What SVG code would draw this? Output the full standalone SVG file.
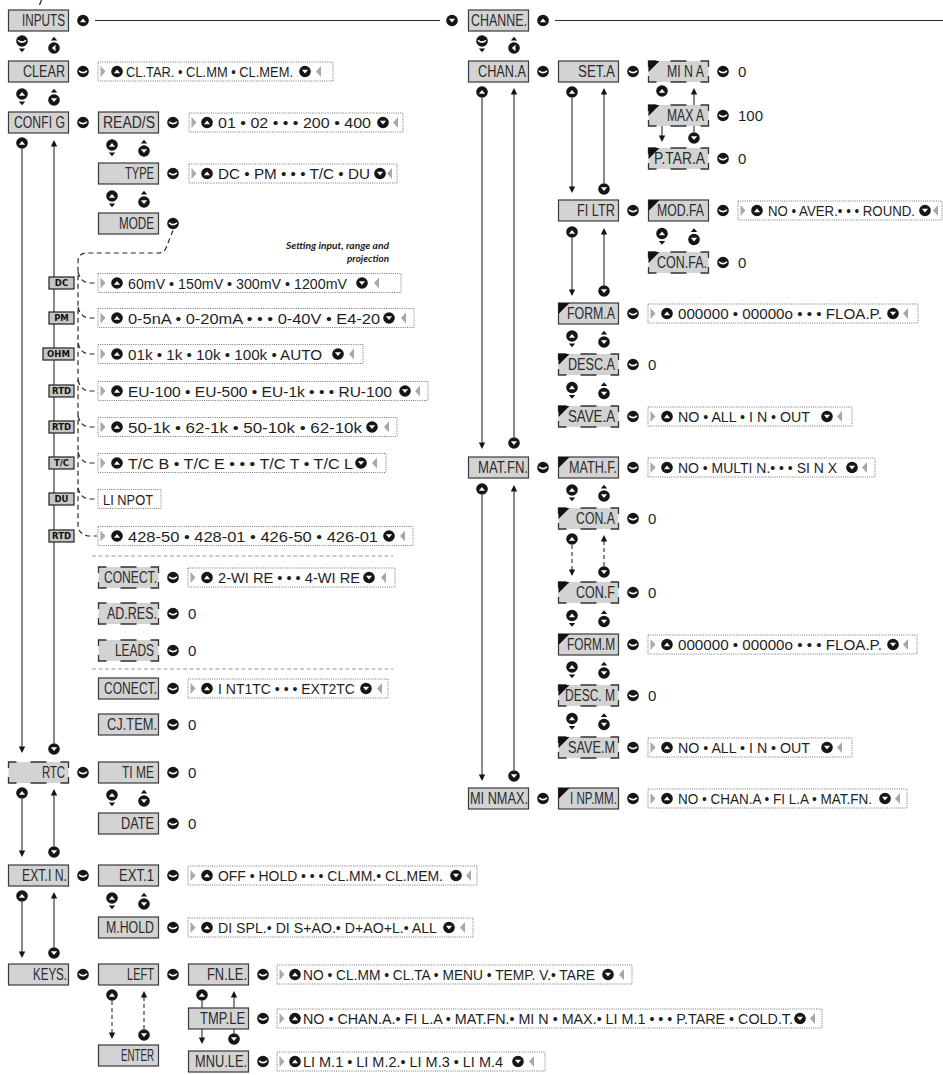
<svg xmlns="http://www.w3.org/2000/svg" width="943" height="1075" viewBox="0 0 943 1075">
<style>
.t{font-family:'Liberation Sans Narrow','Liberation Sans',Arial,sans-serif;font-size:16px;fill:#2b2b2b}
.o{font-family:'Liberation Sans Narrow','Liberation Sans',Arial,sans-serif;font-size:15px;fill:#1e1e1e}
.ob{fill:#fff;stroke:#555;stroke-width:0.8;stroke-dasharray:1 1.2}
.ln{fill:none;stroke:#2a2a2a;stroke-width:1.1}
.dl{fill:none;stroke:#2a2a2a;stroke-width:1.1;stroke-dasharray:4 3}
.md{fill:none;stroke:#2a2a2a;stroke-width:1.2;stroke-dasharray:5 3.5}
.sp{fill:none;stroke:#9a9a9a;stroke-width:1;stroke-dasharray:4 2.5}
.lb{fill:#c6c6c6;stroke:#1e1e1e;stroke-width:1.2}
.lt{font-family:'DejaVu Sans',sans-serif;font-weight:bold;font-size:8.5px;fill:#111;text-anchor:middle}
.it{font-family:Lato,'DejaVu Sans',sans-serif;font-weight:bold;font-style:italic;font-size:9px;fill:#222}
</style>
<defs>
<rect id="B" width="60" height="21" fill="#d3d3d3" stroke="#3a3a3a" stroke-width="1.2"/>
<g id="D"><rect width="60" height="21" fill="#d3d3d3"/><path d="M0,6V0H8M22,0H38M52,0H60V6M60,15V21H52M38,21H22M8,21H0V15" fill="none" stroke="#333" stroke-width="1.3"/></g>
<path id="C" d="M0,0H11L0,11Z" fill="#111"/>
<g id="iu"><circle r="5.8" fill="#151515"/><path d="M-3.1,1.8L0,-2.1L3.1,1.8Z" fill="#fff"/></g>
<g id="id"><circle r="5.8" fill="#151515"/><path d="M-3.1,-1.8L0,2.1L3.1,-1.8Z" fill="#fff"/></g>
<g id="ie"><circle r="5.8" fill="#151515"/><path d="M-4,-0.8Q0,3.1 4,-0.8" fill="none" stroke="#fff" stroke-width="1.6"/></g>
<g id="ir"><circle r="5.8" fill="#151515"/><path d="M1.5,-3.2L-2.2,0L1.5,3.2Z" fill="#fff"/></g>
<path id="tv" d="M-3.2,0H3.2L0,3.8Z" fill="#151515"/>
<path id="ta" d="M-3.2,0H3.2L0,-3.8Z" fill="#151515"/>
<g id="PL"><use href="#iu"/><use href="#tv" y="7.5"/></g>
<g id="PR"><use href="#ta" y="-7.5"/><use href="#id"/></g>
<path id="AD" d="M-3.2,-6.5H3.2L0,0Z" fill="#151515"/>
<path id="AU" d="M-3.2,6.5H3.2L0,0Z" fill="#151515"/>
<path id="GR" d="M0,-5.5L5,0L0,5.5Z" fill="#a8a8a8"/>
<path id="GL" d="M5,-5.5L0,0L5,5.5Z" fill="#a8a8a8"/>
</defs>
<rect width="943" height="1075" fill="#fff"/>
<path d="M41.5,0L39.5,5" stroke="#222" stroke-width="1.2"/>

<g id="connectors">
<path class="ln" d="M95,20.5H440M555,20.5H943"/>
<use href="#iu" x="83" y="20.5"/><use href="#id" x="452" y="20.5"/><use href="#iu" x="543" y="20.5"/>
<use href="#ie" x="22" y="41"/><use href="#tv" x="22" y="48.5"/><use href="#ta" x="54" y="40.5"/><use href="#ir" x="54" y="48"/>
<use href="#ie" x="482" y="41"/><use href="#tv" x="482" y="48.5"/><use href="#ta" x="514" y="40.5"/><use href="#ir" x="514" y="48"/>
<use href="#PL" x="22" y="94"/><use href="#PR" x="54" y="100"/>
<use href="#PL" x="112" y="145"/><use href="#PR" x="144" y="151"/>
<use href="#PL" x="112" y="196"/><use href="#PR" x="144" y="202"/>
<use href="#PL" x="112" y="795"/><use href="#PR" x="144" y="801"/>
<use href="#PL" x="112" y="898"/><use href="#PR" x="144" y="904"/>
<use href="#PL" x="662" y="233.5"/><use href="#PR" x="694" y="239.5"/>
<use href="#PL" x="572" y="336"/><use href="#PR" x="604" y="342"/>
<use href="#PL" x="572" y="387.5"/><use href="#PR" x="604" y="393.5"/>
<use href="#PL" x="572" y="490"/><use href="#PR" x="604" y="496"/>
<use href="#PL" x="572" y="615.5"/><use href="#PR" x="604" y="621.5"/>
<use href="#PL" x="572" y="667"/><use href="#PR" x="604" y="673"/>
<use href="#PL" x="572" y="718.5"/><use href="#PR" x="604" y="724.5"/>
<path class="ln" d="M22,149V747M54,146V743M22,799V851M54,795V846M22,902V952M54,898V947"/>
<use href="#iu" x="22" y="143"/><use href="#AD" x="22" y="753"/><use href="#AU" x="54" y="140"/><use href="#id" x="54" y="749"/>
<use href="#iu" x="22" y="793"/><use href="#AD" x="22" y="857"/><use href="#AU" x="54" y="789"/><use href="#id" x="54" y="852"/>
<use href="#iu" x="22" y="896"/><use href="#AD" x="22" y="958"/><use href="#AU" x="54" y="892"/><use href="#id" x="54" y="953"/>
<path class="dl" d="M112,1001V1033M144,997V1029"/>
<use href="#iu" x="112" y="995"/><use href="#AD" x="112" y="1039"/><use href="#AU" x="144" y="991"/><use href="#id" x="144" y="1035"/>
<path class="ln" d="M202,1001V1008M234,997V1008M202,1029V1038M234,1029V1033"/>
<use href="#iu" x="202" y="995"/><use href="#AU" x="234" y="991"/><use href="#AD" x="202" y="1044"/><use href="#id" x="234" y="1039"/>
<path class="ln" d="M482,98V443M514,94V437M482,495V775M514,491V770M572,98V187M604,94V183M572,238V290M604,234V285M694,94V105M694,126V132M662,126V136"/>
<use href="#iu" x="482" y="92"/><use href="#AD" x="482" y="449"/><use href="#AU" x="514" y="88"/><use href="#id" x="514" y="443"/>
<use href="#iu" x="482" y="489"/><use href="#AD" x="482" y="781"/><use href="#AU" x="514" y="485"/><use href="#id" x="514" y="776"/>
<use href="#iu" x="572" y="92"/><use href="#AD" x="572" y="193"/><use href="#AU" x="604" y="88"/><use href="#id" x="604" y="189"/>
<use href="#iu" x="572" y="232"/><use href="#AD" x="572" y="296"/><use href="#AU" x="604" y="228"/><use href="#id" x="604" y="291"/>
<use href="#iu" x="662" y="91"/><use href="#AU" x="694" y="88"/><use href="#AD" x="662" y="142"/><use href="#id" x="694" y="138"/>
<path class="dl" d="M572,545V570M604,541V566"/>
<use href="#iu" x="572" y="539"/><use href="#AD" x="572" y="576"/><use href="#AU" x="604" y="535"/><use href="#id" x="604" y="572"/>
<use href="#ie" x="83" y="71.5"/><use href="#ie" x="83" y="122.5"/><use href="#ie" x="173" y="122.5"/><use href="#ie" x="173" y="173.5"/><use href="#ie" x="173" y="223.5"/>
<use href="#ie" x="173" y="577.5"/><use href="#ie" x="173" y="613.5"/><use href="#ie" x="173" y="650.5"/><use href="#ie" x="173" y="688.5"/><use href="#ie" x="173" y="724.5"/>
<use href="#ie" x="83" y="772.5"/><use href="#ie" x="173" y="772.5"/><use href="#ie" x="173" y="823.5"/><use href="#ie" x="83" y="875.5"/><use href="#ie" x="173" y="875.5"/><use href="#ie" x="173" y="927.5"/>
<use href="#ie" x="83" y="974.5"/><use href="#ie" x="173" y="974.5"/><use href="#ie" x="263" y="974.5"/><use href="#ie" x="263" y="1018.5"/><use href="#ie" x="263" y="1061.5"/>
<use href="#ie" x="543" y="71.5"/><use href="#ie" x="633" y="71.5"/><use href="#ie" x="723" y="71.5"/><use href="#ie" x="723" y="115.5"/><use href="#ie" x="723" y="158.5"/>
<use href="#ie" x="633" y="210.5"/><use href="#ie" x="723" y="210.5"/><use href="#ie" x="723" y="262.5"/><use href="#ie" x="633" y="313.5"/><use href="#ie" x="633" y="364.5"/><use href="#ie" x="633" y="416.5"/>
<use href="#ie" x="543" y="467.5"/><use href="#ie" x="633" y="467.5"/><use href="#ie" x="633" y="518.5"/><use href="#ie" x="633" y="592.5"/><use href="#ie" x="633" y="644.5"/><use href="#ie" x="633" y="695.5"/><use href="#ie" x="633" y="747.5"/>
<use href="#ie" x="543" y="798.5"/><use href="#ie" x="633" y="798.5"/>
<path class="md" d="M173,230.5L166,248Q164,253 158,253H87Q78,253 78,262V528Q80,534 88,536H97"/>
<path class="md" d="M78,272Q80,281 88,283H97M78,307Q80,316 88,318H97M78,343Q80,352 88,354H97M78,380Q80,389 88,391H97M78,416Q80,425 88,427H97M78,452Q80,461 88,463H97M78,488Q80,497 88,499H97"/>
<path class="sp" d="M92,556H393M92,669H393"/>
</g>

<text class="it" x="286" y="249" textLength="103" lengthAdjust="spacingAndGlyphs">Setting input, range and</text>
<text class="it" x="347" y="262" textLength="42" lengthAdjust="spacingAndGlyphs">projection</text>

<g id="labels">
<g id="l-dc"><rect class="lb" x="49" y="277" width="25" height="12"/><text class="lt" x="61.5" y="286">DC</text></g>
<g id="l-pm"><rect class="lb" x="49" y="312" width="25" height="12"/><text class="lt" x="61.5" y="321">PM</text></g>
<g id="l-ohm"><rect class="lb" x="43" y="348" width="31" height="12"/><text class="lt" x="58.5" y="357">OHM</text></g>
<g id="l-rtd1"><rect class="lb" x="49" y="385" width="25" height="12"/><text class="lt" x="61.5" y="394">RTD</text></g>
<g id="l-rtd2"><rect class="lb" x="49" y="421" width="25" height="12"/><text class="lt" x="61.5" y="430">RTD</text></g>
<g id="l-tc"><rect class="lb" x="49" y="457" width="25" height="12"/><text class="lt" x="61.5" y="466">T/C</text></g>
<g id="l-du"><rect class="lb" x="49" y="493" width="25" height="12"/><text class="lt" x="61.5" y="502">DU</text></g>
<g id="l-rtd3"><rect class="lb" x="49" y="530" width="25" height="12"/><text class="lt" x="61.5" y="539">RTD</text></g>
</g>

<g id="n-inputs"><use href="#B" x="8.5" y="10"/><text class="t" x="22" y="26" textLength="43" lengthAdjust="spacingAndGlyphs">INPUTS</text></g>
<g id="n-clear"><use href="#B" x="8.5" y="61"/><text class="t" x="23" y="77" textLength="42" lengthAdjust="spacingAndGlyphs">CLEAR</text></g>
<g id="n-config"><use href="#B" x="8.5" y="112"/><text class="t" x="14" y="128" textLength="51" lengthAdjust="spacingAndGlyphs">CONFI G</text></g>
<g id="n-reads"><use href="#B" x="98.5" y="112"/><text class="t" x="103" y="128" textLength="52" lengthAdjust="spacingAndGlyphs">READ/S</text></g>
<g id="n-type"><use href="#B" x="98.5" y="163"/><text class="t" x="125" y="179" textLength="29" lengthAdjust="spacingAndGlyphs">TYPE</text></g>
<g id="n-mode"><use href="#B" x="98.5" y="213"/><text class="t" x="119" y="229" textLength="35" lengthAdjust="spacingAndGlyphs">MODE</text></g>
<g id="n-conect1"><use href="#D" x="98.5" y="567"/><text class="t" x="104" y="583" textLength="53" lengthAdjust="spacingAndGlyphs">CONECT.</text></g>
<g id="n-adres"><use href="#D" x="98.5" y="603"/><text class="t" x="107" y="619" textLength="50" lengthAdjust="spacingAndGlyphs">AD.RES.</text></g>
<g id="n-leads"><use href="#D" x="98.5" y="640"/><text class="t" x="115" y="656" textLength="39" lengthAdjust="spacingAndGlyphs">LEADS</text></g>
<g id="n-conect2"><use href="#B" x="98.5" y="678"/><text class="t" x="104" y="694" textLength="53" lengthAdjust="spacingAndGlyphs">CONECT.</text></g>
<g id="n-cjtem"><use href="#B" x="98.5" y="714"/><text class="t" x="107" y="730" textLength="50" lengthAdjust="spacingAndGlyphs">CJ.TEM.</text></g>
<g id="n-rtc"><use href="#D" x="8.5" y="762"/><text class="t" x="42" y="778" textLength="23" lengthAdjust="spacingAndGlyphs">RTC</text></g>
<g id="n-time"><use href="#B" x="98.5" y="762"/><text class="t" x="122" y="778" textLength="32" lengthAdjust="spacingAndGlyphs">TI ME</text></g>
<g id="n-date"><use href="#B" x="98.5" y="813"/><text class="t" x="121" y="829" textLength="33" lengthAdjust="spacingAndGlyphs">DATE</text></g>
<g id="n-extin"><use href="#B" x="8.5" y="865"/><text class="t" x="22" y="881" textLength="45" lengthAdjust="spacingAndGlyphs">EXT.I N.</text></g>
<g id="n-ext1"><use href="#B" x="98.5" y="865"/><text class="t" x="119" y="881" textLength="35" lengthAdjust="spacingAndGlyphs">EXT.1</text></g>
<g id="n-mhold"><use href="#B" x="98.5" y="917"/><text class="t" x="106" y="933" textLength="48" lengthAdjust="spacingAndGlyphs">M.HOLD</text></g>
<g id="n-keys"><use href="#B" x="8.5" y="964"/><text class="t" x="33" y="980" textLength="34" lengthAdjust="spacingAndGlyphs">KEYS.</text></g>
<g id="n-left"><use href="#B" x="98.5" y="964"/><text class="t" x="127" y="980" textLength="27" lengthAdjust="spacingAndGlyphs">LEFT</text></g>
<g id="n-enter"><use href="#B" x="98.5" y="1045"/><text class="t" x="121" y="1061" textLength="33" lengthAdjust="spacingAndGlyphs">ENTER</text></g>
<g id="n-fnle"><use href="#B" x="188.5" y="964"/><text class="t" x="207" y="980" textLength="40" lengthAdjust="spacingAndGlyphs">FN.LE.</text></g>
<g id="n-tmple"><use href="#B" x="188.5" y="1008"/><text class="t" x="200" y="1024" textLength="45" lengthAdjust="spacingAndGlyphs">TMP.LE</text></g>
<g id="n-mnule"><use href="#B" x="188.5" y="1051"/><text class="t" x="195" y="1067" textLength="52" lengthAdjust="spacingAndGlyphs">MNU.LE.</text></g>

<g id="n-channe"><use href="#B" x="468.5" y="10"/><text class="t" x="471" y="26" textLength="56" lengthAdjust="spacingAndGlyphs">CHANNE.</text></g>
<g id="n-chana"><use href="#B" x="468.5" y="61"/><text class="t" x="478" y="77" textLength="48" lengthAdjust="spacingAndGlyphs">CHAN.A</text></g>
<g id="n-seta"><use href="#B" x="558.5" y="61"/><text class="t" x="578" y="77" textLength="37" lengthAdjust="spacingAndGlyphs">SET.A</text></g>
<g id="n-mina"><use href="#D" x="648.5" y="61"/><use href="#C" x="648.5" y="61"/><text class="t" x="667" y="77" textLength="37" lengthAdjust="spacingAndGlyphs">MI N A</text></g>
<g id="n-maxa"><use href="#D" x="648.5" y="105"/><use href="#C" x="648.5" y="105"/><text class="t" x="667" y="121" textLength="37" lengthAdjust="spacingAndGlyphs">MAX A</text></g>
<g id="n-ptara"><use href="#D" x="648.5" y="148"/><use href="#C" x="648.5" y="148"/><text class="t" x="654" y="164" textLength="51" lengthAdjust="spacingAndGlyphs">P.TAR.A</text></g>
<g id="n-filtr"><use href="#B" x="558.5" y="200"/><text class="t" x="577" y="216" textLength="38" lengthAdjust="spacingAndGlyphs">FI LTR</text></g>
<g id="n-modfa"><use href="#B" x="648.5" y="200"/><use href="#C" x="648.5" y="200"/><text class="t" x="657" y="216" textLength="47" lengthAdjust="spacingAndGlyphs">MOD.FA</text></g>
<g id="n-confa"><use href="#D" x="648.5" y="252"/><use href="#C" x="648.5" y="252"/><text class="t" x="657" y="268" textLength="50" lengthAdjust="spacingAndGlyphs">CON.FA.</text></g>
<g id="n-forma"><use href="#B" x="558.5" y="303"/><use href="#C" x="558.5" y="303"/><text class="t" x="567" y="319" textLength="48" lengthAdjust="spacingAndGlyphs">FORM.A</text></g>
<g id="n-desca"><use href="#D" x="558.5" y="354"/><use href="#C" x="558.5" y="354"/><text class="t" x="568" y="370" textLength="47" lengthAdjust="spacingAndGlyphs">DESC.A</text></g>
<g id="n-savea"><use href="#D" x="558.5" y="406"/><use href="#C" x="558.5" y="406"/><text class="t" x="568" y="422" textLength="47" lengthAdjust="spacingAndGlyphs">SAVE.A</text></g>
<g id="n-matfn"><use href="#B" x="468.5" y="457"/><text class="t" x="478" y="473" textLength="50" lengthAdjust="spacingAndGlyphs">MAT.FN.</text></g>
<g id="n-mathf"><use href="#B" x="558.5" y="457"/><use href="#C" x="558.5" y="457"/><text class="t" x="569" y="473" textLength="48" lengthAdjust="spacingAndGlyphs">MATH.F.</text></g>
<g id="n-cona"><use href="#D" x="558.5" y="508"/><use href="#C" x="558.5" y="508"/><text class="t" x="576" y="524" textLength="39" lengthAdjust="spacingAndGlyphs">CON.A</text></g>
<g id="n-conf"><use href="#D" x="558.5" y="582"/><use href="#C" x="558.5" y="582"/><text class="t" x="576" y="598" textLength="39" lengthAdjust="spacingAndGlyphs">CON.F</text></g>
<g id="n-formm"><use href="#B" x="558.5" y="634"/><use href="#C" x="558.5" y="634"/><text class="t" x="567" y="650" textLength="48" lengthAdjust="spacingAndGlyphs">FORM.M</text></g>
<g id="n-descm"><use href="#D" x="558.5" y="685"/><use href="#C" x="558.5" y="685"/><text class="t" x="565" y="701" textLength="50" lengthAdjust="spacingAndGlyphs">DESC. M</text></g>
<g id="n-savem"><use href="#D" x="558.5" y="737"/><use href="#C" x="558.5" y="737"/><text class="t" x="568" y="753" textLength="47" lengthAdjust="spacingAndGlyphs">SAVE.M</text></g>
<g id="n-minmax"><use href="#B" x="468.5" y="788"/><text class="t" x="470" y="804" textLength="58" lengthAdjust="spacingAndGlyphs">MI NMAX.</text></g>
<g id="n-inpmm"><use href="#B" x="558.5" y="788"/><use href="#C" x="558.5" y="788"/><text class="t" x="570" y="804" textLength="47" lengthAdjust="spacingAndGlyphs">I NP.MM.</text></g>

<g id="values">
<text class="o" x="188" y="619">0</text><text class="o" x="188" y="656">0</text><text class="o" x="188" y="730">0</text>
<text class="o" x="188" y="778">0</text><text class="o" x="188" y="829">0</text>
<text class="o" x="738" y="77">0</text><text class="o" x="738" y="121">100</text><text class="o" x="738" y="164">0</text><text class="o" x="738" y="268">0</text>
<text class="o" x="648" y="370">0</text><text class="o" x="648" y="524">0</text><text class="o" x="648" y="598">0</text><text class="o" x="648" y="701">0</text>
</g>

<g id="o-clear"><rect class="ob" x="98" y="62" width="235" height="19"/><use href="#GR" x="100.5" y="71.5"/><use href="#iu" x="117" y="71.5"/><text class="o" x="126" y="77" textLength="167" lengthAdjust="spacingAndGlyphs">CL.TAR. • CL.MM • CL.MEM.</text><use href="#id" x="305" y="71.5"/><use href="#GL" x="316" y="71.5"/></g>
<g id="o-reads"><rect class="ob" x="189" y="113" width="214" height="19"/><use href="#GR" x="191.5" y="122.5"/><use href="#iu" x="207" y="122.5"/><text class="o" x="218" y="128" textLength="153" lengthAdjust="spacingAndGlyphs">01 • 02 • • • 200 • 400</text><use href="#id" x="383" y="122.5"/><use href="#GL" x="393" y="122.5"/></g>
<g id="o-type"><rect class="ob" x="189" y="164" width="208" height="19"/><use href="#GR" x="191.5" y="173.5"/><use href="#iu" x="207" y="173.5"/><text class="o" x="218" y="179" textLength="152" lengthAdjust="spacingAndGlyphs">DC • PM • • • T/C • DU</text><use href="#id" x="380" y="173.5"/><use href="#GL" x="387" y="173.5"/></g>
<g id="o-dc"><rect class="ob" x="98" y="273.5" width="303" height="19"/><use href="#GR" x="100.5" y="283"/><use href="#iu" x="117" y="283"/><text class="o" x="128" y="288.5" textLength="219" lengthAdjust="spacingAndGlyphs">60mV • 150mV • 300mV • 1200mV</text><use href="#id" x="362" y="283"/><use href="#GL" x="374" y="283"/></g>
<g id="o-pm"><rect class="ob" x="98" y="308.5" width="316" height="19"/><use href="#GR" x="100.5" y="318"/><use href="#iu" x="117" y="318"/><text class="o" x="128" y="323.5" textLength="252" lengthAdjust="spacingAndGlyphs">0-5nA • 0-20mA • • • 0-40V • E4-20</text><use href="#id" x="389" y="318"/><use href="#GL" x="401" y="318"/></g>
<g id="o-ohm"><rect class="ob" x="98" y="344.5" width="265" height="19"/><use href="#GR" x="100.5" y="354"/><use href="#iu" x="117" y="354"/><text class="o" x="128" y="359.5" textLength="194" lengthAdjust="spacingAndGlyphs">01k • 1k • 10k • 100k • AUTO</text><use href="#id" x="338" y="354"/><use href="#GL" x="349" y="354"/></g>
<g id="o-rtd1"><rect class="ob" x="98" y="381.5" width="330" height="19"/><use href="#GR" x="100.5" y="391"/><use href="#iu" x="117" y="391"/><text class="o" x="128" y="396.5" textLength="264" lengthAdjust="spacingAndGlyphs">EU-100 • EU-500 • EU-1k • • • RU-100</text><use href="#id" x="405" y="391"/><use href="#GL" x="415" y="391"/></g>
<g id="o-rtd2"><rect class="ob" x="98" y="417.5" width="299" height="19"/><use href="#GR" x="100.5" y="427"/><use href="#iu" x="117" y="427"/><text class="o" x="128" y="432.5" textLength="234" lengthAdjust="spacingAndGlyphs">50-1k • 62-1k • 50-10k • 62-10k</text><use href="#id" x="372" y="427"/><use href="#GL" x="384" y="427"/></g>
<g id="o-tc"><rect class="ob" x="98" y="453.5" width="288" height="19"/><use href="#GR" x="100.5" y="463"/><use href="#iu" x="117" y="463"/><text class="o" x="128" y="468.5" textLength="225" lengthAdjust="spacingAndGlyphs">T/C B • T/C E • • • T/C T • T/C L</text><use href="#id" x="361" y="463"/><use href="#GL" x="372" y="463"/></g>
<g id="o-du"><rect class="ob" x="98" y="489.5" width="63" height="19"/><text class="o" x="103" y="504.5" textLength="50" lengthAdjust="spacingAndGlyphs">LI NPOT</text></g>
<g id="o-rtd3"><rect class="ob" x="98" y="526.5" width="315" height="19"/><use href="#GR" x="100.5" y="536"/><use href="#iu" x="117" y="536"/><text class="o" x="128" y="541.5" textLength="250" lengthAdjust="spacingAndGlyphs">428-50 • 428-01 • 426-50 • 426-01</text><use href="#id" x="389" y="536"/><use href="#GL" x="400" y="536"/></g>
<g id="o-conect1"><rect class="ob" x="188" y="568" width="207" height="19"/><use href="#GR" x="190.5" y="577.5"/><use href="#iu" x="207" y="577.5"/><text class="o" x="218" y="583" textLength="142" lengthAdjust="spacingAndGlyphs">2-WI RE • • • 4-WI RE</text><use href="#id" x="369" y="577.5"/><use href="#GL" x="381" y="577.5"/></g>
<g id="o-conect2"><rect class="ob" x="188" y="679" width="200" height="19"/><use href="#GR" x="190.5" y="688.5"/><use href="#iu" x="207" y="688.5"/><text class="o" x="218" y="694" textLength="137" lengthAdjust="spacingAndGlyphs">I NT1TC • • • EXT2TC</text><use href="#id" x="366" y="688.5"/><use href="#GL" x="377" y="688.5"/></g>
<g id="o-ext1"><rect class="ob" x="188" y="866" width="289" height="19"/><use href="#GR" x="190.5" y="875.5"/><use href="#iu" x="207" y="875.5"/><text class="o" x="218" y="881" textLength="225" lengthAdjust="spacingAndGlyphs">OFF • HOLD • • • CL.MM.• CL.MEM.</text><use href="#id" x="456" y="875.5"/><use href="#GL" x="466" y="875.5"/></g>
<g id="o-mhold"><rect class="ob" x="188" y="918" width="285" height="19"/><use href="#GR" x="190.5" y="927.5"/><use href="#iu" x="207" y="927.5"/><text class="o" x="218" y="933" textLength="219" lengthAdjust="spacingAndGlyphs">DI SPL.• DI S+AO.• D+AO+L.• ALL</text><use href="#id" x="449" y="927.5"/><use href="#GL" x="460" y="927.5"/></g>
<g id="o-fnle"><rect class="ob" x="277" y="965" width="355" height="19"/><use href="#GR" x="279.5" y="974.5"/><use href="#iu" x="295" y="974.5"/><text class="o" x="303" y="980" textLength="292" lengthAdjust="spacingAndGlyphs">NO • CL.MM • CL.TA • MENU • TEMP. V.• TARE</text><use href="#id" x="608" y="974.5"/><use href="#GL" x="619" y="974.5"/></g>
<g id="o-tmple"><rect class="ob" x="277" y="1009" width="545" height="19"/><use href="#GR" x="279.5" y="1018.5"/><use href="#iu" x="295" y="1018.5"/><text class="o" x="303" y="1024" textLength="490" lengthAdjust="spacingAndGlyphs">NO • CHAN.A.• FI L.A • MAT.FN.• MI N • MAX.• LI M.1 • • • P.TARE • COLD.T.</text><use href="#id" x="800" y="1018.5"/><use href="#GL" x="810" y="1018.5"/></g>
<g id="o-mnule"><rect class="ob" x="277" y="1052" width="268" height="19"/><use href="#GR" x="279.5" y="1061.5"/><use href="#iu" x="295" y="1061.5"/><text class="o" x="303" y="1067" textLength="200" lengthAdjust="spacingAndGlyphs">LI M.1 • LI M.2.• LI M.3 • LI M.4</text><use href="#id" x="518" y="1061.5"/><use href="#GL" x="529" y="1061.5"/></g>
<g id="o-modfa"><rect class="ob" x="738" y="201" width="204" height="19"/><use href="#GR" x="740.5" y="210.5"/><use href="#iu" x="757" y="210.5"/><text class="o" x="768" y="216" textLength="147" lengthAdjust="spacingAndGlyphs">NO • AVER.• • • ROUND.</text><use href="#id" x="925" y="210.5"/><use href="#GL" x="933" y="210.5"/></g>
<g id="o-forma"><rect class="ob" x="648" y="304" width="270" height="19"/><use href="#GR" x="650.5" y="313.5"/><use href="#iu" x="667" y="313.5"/><text class="o" x="678" y="319" textLength="204" lengthAdjust="spacingAndGlyphs">000000 • 00000o • • • FLOA.P.</text><use href="#id" x="893" y="313.5"/><use href="#GL" x="903" y="313.5"/></g>
<g id="o-savea"><rect class="ob" x="648" y="407" width="204" height="19"/><use href="#GR" x="650.5" y="416.5"/><use href="#iu" x="667" y="416.5"/><text class="o" x="678" y="422" textLength="132" lengthAdjust="spacingAndGlyphs">NO • ALL • I N • OUT</text><use href="#id" x="827" y="416.5"/><use href="#GL" x="837" y="416.5"/></g>
<g id="o-mathf"><rect class="ob" x="648" y="458" width="227" height="19"/><use href="#GR" x="650.5" y="467.5"/><use href="#iu" x="667" y="467.5"/><text class="o" x="678" y="473" textLength="159" lengthAdjust="spacingAndGlyphs">NO • MULTI N.• • • SI N X</text><use href="#id" x="852" y="467.5"/><use href="#GL" x="862" y="467.5"/></g>
<g id="o-formm"><rect class="ob" x="648" y="635" width="269" height="19"/><use href="#GR" x="650.5" y="644.5"/><use href="#iu" x="667" y="644.5"/><text class="o" x="678" y="650" textLength="204" lengthAdjust="spacingAndGlyphs">000000 • 00000o • • • FLOA.P.</text><use href="#id" x="893" y="644.5"/><use href="#GL" x="903" y="644.5"/></g>
<g id="o-savem"><rect class="ob" x="648" y="738" width="204" height="19"/><use href="#GR" x="650.5" y="747.5"/><use href="#iu" x="667" y="747.5"/><text class="o" x="678" y="753" textLength="132" lengthAdjust="spacingAndGlyphs">NO • ALL • I N • OUT</text><use href="#id" x="827" y="747.5"/><use href="#GL" x="837" y="747.5"/></g>
<g id="o-inpmm"><rect class="ob" x="648" y="789" width="259" height="19"/><use href="#GR" x="650.5" y="798.5"/><use href="#iu" x="667" y="798.5"/><text class="o" x="678" y="804" textLength="194" lengthAdjust="spacingAndGlyphs">NO • CHAN.A • FI L.A • MAT.FN.</text><use href="#id" x="885" y="798.5"/><use href="#GL" x="895" y="798.5"/></g>
</svg>
